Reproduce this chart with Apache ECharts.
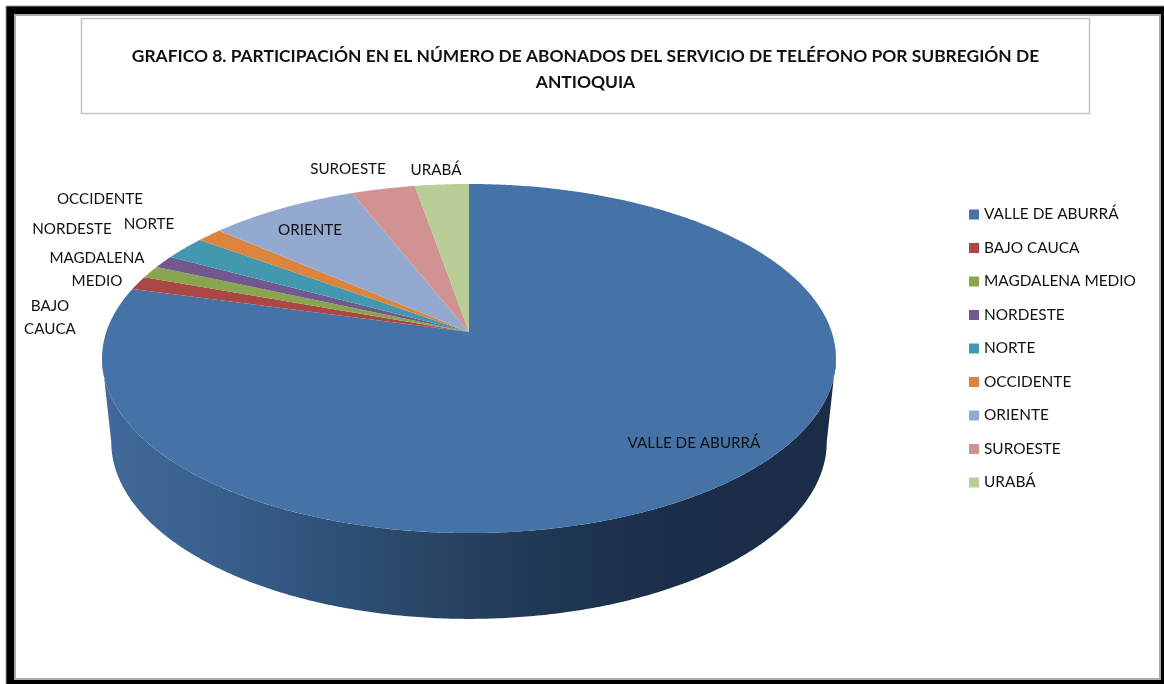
<!DOCTYPE html>
<html>
<head>
<meta charset="utf-8">
<style>html,body{margin:0;padding:0;background:#fff}#c{width:1164px;height:684px}</style>
<script src="https://cdn.jsdelivr.net/npm/echarts@6/dist/echarts.min.js"></script>
</head>
<body>
<div id="c"></div>
<script>
const titleText = 'GRAFICO 8. PARTICIPACIÓN EN EL NÚMERO DE ABONADOS DEL SERVICIO DE TELÉFONO POR SUBREGIÓN DE\nANTIOQUIA';
const categories = ['VALLE DE ABURRÁ','BAJO CAUCA','MAGDALENA MEDIO','NORDESTE','NORTE','OCCIDENTE','ORIENTE','SUROESTE','URABÁ'];
const shares = [79.23,1.25,1.16,1.18,2.19,1.32,7.67,3.26,2.74];
const colors = ['#4572A7','#AA4643','#89A54E','#71588F','#4198AF','#DB843D','#93A9CF','#D19392','#B9CD96'];
const sliceLabels = ['VALLE DE ABURRÁ','BAJO\nCAUCA','MAGDALENA\nMEDIO','NORDESTE','NORTE','OCCIDENTE','ORIENTE','SUROESTE','URABÁ'];
const labelAnchors = [[694,443],[50,318],[97,270],[72,229],[149,224],[100,199],[310,230],[348,169],[436,170]];

const FONT = 'Lato';
const total = shares.reduce((a,b)=>a+b,0);
const starts = []; shares.reduce((acc,v,i)=>{starts[i]=acc;return acc+v;},0);

// Perspective projection of the pie disc (u: right, v: towards the viewer)
const P = {cx:469, a:0.152, top:{y:332,S:170.5,R:362.7}, bottom:{y:415,S:172.9,R:353.6}};
function project(t, ring){           // t: clockwise turn fraction from 12 o'clock
  const u = Math.sin(t*2*Math.PI), v = -Math.cos(t*2*Math.PI), w = 1 - P.a*v;
  return [P.cx + ring.R*u/w, ring.y + ring.S*v/w];
}
function arcPoints(t0,t1,ring){
  const n = Math.max(2, Math.ceil((t1-t0)*720)), pts=[];
  for(let i=0;i<=n;i++) pts.push(project(t0+(t1-t0)*i/n, ring));
  return pts;
}
// turn fractions at which the silhouette tangents sit (v === a)
const tanT = Math.acos(-P.a)/(2*Math.PI);
const frontA = tanT, frontB = 1-tanT;

const wallFill = new echarts.graphic.LinearGradient(102,0,836,0,[
  {offset:0,color:'#41699A'},{offset:0.12,color:'#3B6391'},{offset:0.28,color:'#31547D'},
  {offset:0.45,color:'#284565'},{offset:0.62,color:'#1F3653'},{offset:0.78,color:'#1B2E49'},{offset:1,color:'#1A2C46'}
],true);

function renderSlice(idx){
  return function(params, api){
    const t0 = starts[idx]/total, t1 = t0 + api.value(0)/total;
    const children = [];
    // visible outer wall: part of the slice on the viewer's side
    const a0 = Math.max(t0,frontA), a1 = Math.min(t1,frontB);
    if(a1>a0){
      const top = arcPoints(a0,a1,P.top), bot = arcPoints(a0,a1,P.bottom).reverse();
      children.push({type:'polygon',shape:{points:top.concat(bot)},style:{fill:wallFill,stroke:null},z2:1});
    }
    const pts = [[P.cx,P.top.y]].concat(arcPoints(t0,t1,P.top));
    children.push({type:'polygon',shape:{points:pts},style:{fill:colors[idx],stroke:null},z2:2});
    children.push({type:'text',z2:5,style:{
      x:labelAnchors[idx][0],y:labelAnchors[idx][1],text:sliceLabels[idx],
      fill:'#111',font:'15.2px '+FONT,align:'center',verticalAlign:'middle',lineHeight:23}});
    return {type:'group',children};
  };
}

const chart = echarts.init(document.getElementById('c'),null,{renderer:'canvas'});
chart.setOption({
  animation:false,
  backgroundColor:'#fff',
  color:colors,
  title:{
    text:titleText,left:580.5,top:38,textAlign:'center',
    textStyle:{fontFamily:FONT,fontSize:17.4,fontWeight:'bold',color:'#111',lineHeight:26}
  },
  legend:{
    orient:'vertical',left:969,top:207,padding:0,itemWidth:10,itemHeight:10,itemGap:18.5,
    icon:'rect',data:categories,selectedMode:false,
    textStyle:{fontFamily:FONT,fontSize:15.4,color:'#111'}
  },
  graphic:{elements:[
    {type:'rect',silent:true,z:-10,shape:{x:6,y:6,width:1170,height:690},style:{fill:'#000',stroke:'#999',lineWidth:1}},
    {type:'rect',silent:true,z:-9,shape:{x:15,y:15,width:1145,height:664},style:{fill:'#fff',stroke:'#aaa',lineWidth:2}},
    {type:'rect',silent:true,z:-8,shape:{x:81.5,y:18.5,width:1008,height:95},style:{fill:'#fff',stroke:'#c4c4c4',lineWidth:1.5}}
  ]},
  series:categories.map((name,i)=>({
    type:'custom',name,coordinateSystem:'none',silent:true,
    itemStyle:{color:colors[i]},
    data:[[shares[i]]],
    renderItem:renderSlice(i)
  }))
});
</script>
</body>
</html>
